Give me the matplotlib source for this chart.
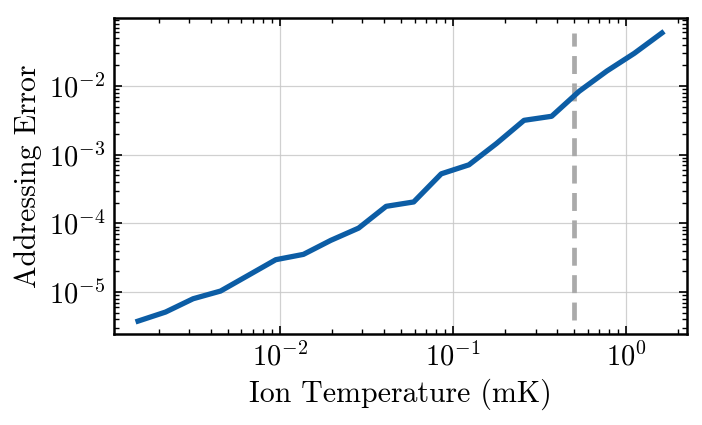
import matplotlib
matplotlib.use("Agg")
import matplotlib.pyplot as plt

# ion temperature (mK) and addressing error
temperature = [0.00152, 0.00219, 0.00316, 0.00455, 0.00657, 0.00948, 0.0137,
               0.0197, 0.0285, 0.0411, 0.0593, 0.0855, 0.1235, 0.178, 0.257,
               0.371, 0.535, 0.773, 1.114, 1.607]
addressing_error = [3.78e-6, 5.12e-6, 8.0e-6, 1.035e-5, 1.75e-5, 2.96e-5, 3.54e-5,
                    5.66e-5, 8.53e-5, 1.77e-4, 2.05e-4, 5.26e-4, 7.11e-4, 1.45e-3,
                    3.16e-3, 3.62e-3, 8.37e-3, 1.65e-2, 2.99e-2, 5.91e-2]

# doppler limit marker
limit_temp = 0.5
limit_span = [3.9e-6, 5.9e-2]

plt.rcParams["font.family"] = "cmr10"
plt.rcParams["mathtext.fontset"] = "cm"
plt.rcParams["axes.formatter.use_mathtext"] = True
plt.rcParams["font.size"] = 21.5

fig = plt.figure(figsize=(7.02, 4.25), dpi=100)
ax = fig.add_axes([0.162, 0.214, 0.817, 0.744])

ax.plot(temperature, addressing_error, color="#0C5DA5", lw=3.8, zorder=3)
ax.plot([limit_temp, limit_temp], limit_span, color="#aaaaaa", lw=3.4,
        dashes=(3.8, 2.0), zorder=2)

ax.set_xscale("log")
ax.set_yscale("log")
ax.set_xlim(1.1e-3, 2.25)
ax.set_ylim(2.45e-6, 0.098)

ax.set_xlabel("Ion Temperature (mK)", labelpad=5)
ax.set_ylabel("Addressing Error", labelpad=5)

ax.grid(True, which="major", color="#c8c8c8", lw=0.9, alpha=0.85)
ax.tick_params(which="both", direction="in", top=True, right=True,
               labelsize=20.5)
ax.tick_params(which="major", length=6, width=1.2, pad=6)
ax.tick_params(which="minor", length=3.5, width=1.0)
for s in ax.spines.values():
    s.set_linewidth(1.8)

fig.savefig("out.png", dpi=100)
